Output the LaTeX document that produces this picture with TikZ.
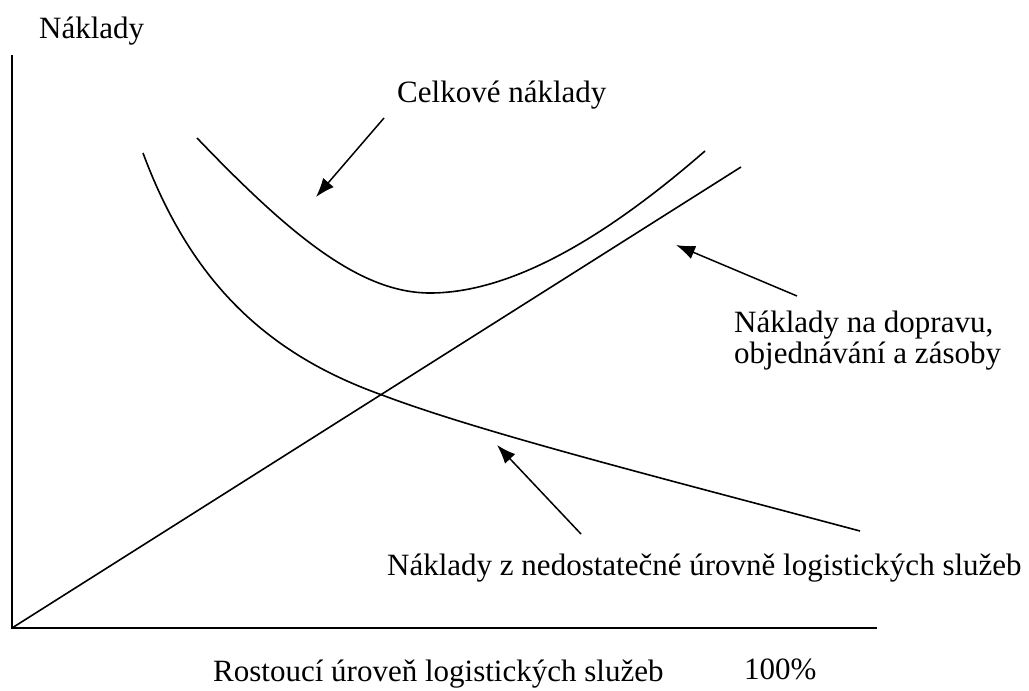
\documentclass[tikz,border=0pt]{standalone}
\usepackage{fontspec}
\setmainfont{Liberation Serif}
\usetikzlibrary{arrows.meta}
\newlength{\du}
\setlength{\du}{1pt}
\tikzset{
  osa/.style={line width=2.6\du,line join=miter},
  krivka/.style={line width=1.6\du},
  sipka/.style={line width=1.5\du,-{Latex[length=19pt,width=14pt]}},
  popis/.style={anchor=base west,inner sep=0pt,align=left,font=\fontsize{31}{31}\selectfont}
}

\begin{document}
\begin{tikzpicture}
\pgftransformxscale{1.000000}
\pgftransformyscale{-1.000000}
\definecolor{dialinecolor}{rgb}{0.000000, 0.000000, 0.000000}
\useasboundingbox (0\du,0\du) rectangle (1029\du,691\du);
% osy
\coordinate (pocatek) at (12\du,628\du);
\coordinate (osay) at (12\du,55\du);
\coordinate (osax) at (877\du,628\du);
\draw[osa,dialinecolor] (osay)--(pocatek)--(osax);
\node[popis] (naklady) at (39\du,38\du){Náklady};
\node[popis] (rostouci) at (213\du,681\du){Rostoucí úroveň logistických služeb};
\node[popis] (sto) at (744\du,679\du){100\%};
% krivky
\draw[krivka,dialinecolor] (197\du,138\du) .. controls (290\du,235\du) and (360\du,293\du) .. (430\du,293\du) .. controls (520\du,293\du) and (620\du,225\du) .. (705\du,151\du);
\coordinate (primkakonec) at (741\du,167\du);
\draw[krivka,dialinecolor] (pocatek)--(primkakonec);
\draw[krivka,dialinecolor] (143\du,153\du) .. controls (192\du,285\du) and (270\du,355\du) .. (382\du,395\du) .. controls (480\du,432\du) and (650\du,475\du) .. (860\du,531\du);
% popisky a sipky
\node[popis] (celkove) at (397\du,102\du){Celkové náklady};
\coordinate (celkoveod) at (384\du,118\du);
\coordinate (celkovedo) at (316\du,197\du);
\draw[sipka,dialinecolor] (celkoveod)--(celkovedo);
\node[popis] (doprava) at (734\du,363\du){Náklady na dopravu,\\objednávání a zásoby};
\coordinate (dopravaod) at (797\du,296\du);
\coordinate (dopravado) at (676\du,245\du);
\draw[sipka,dialinecolor] (dopravaod)--(dopravado);
\node[popis] (nedostatek) at (387\du,575\du){Náklady z nedostatečné úrovně logistických služeb};
\coordinate (nedostatekod) at (581\du,534\du);
\coordinate (nedostatekdo) at (497\du,445\du);
\draw[sipka,dialinecolor] (nedostatekod)--(nedostatekdo);
\end{tikzpicture}
\end{document}
